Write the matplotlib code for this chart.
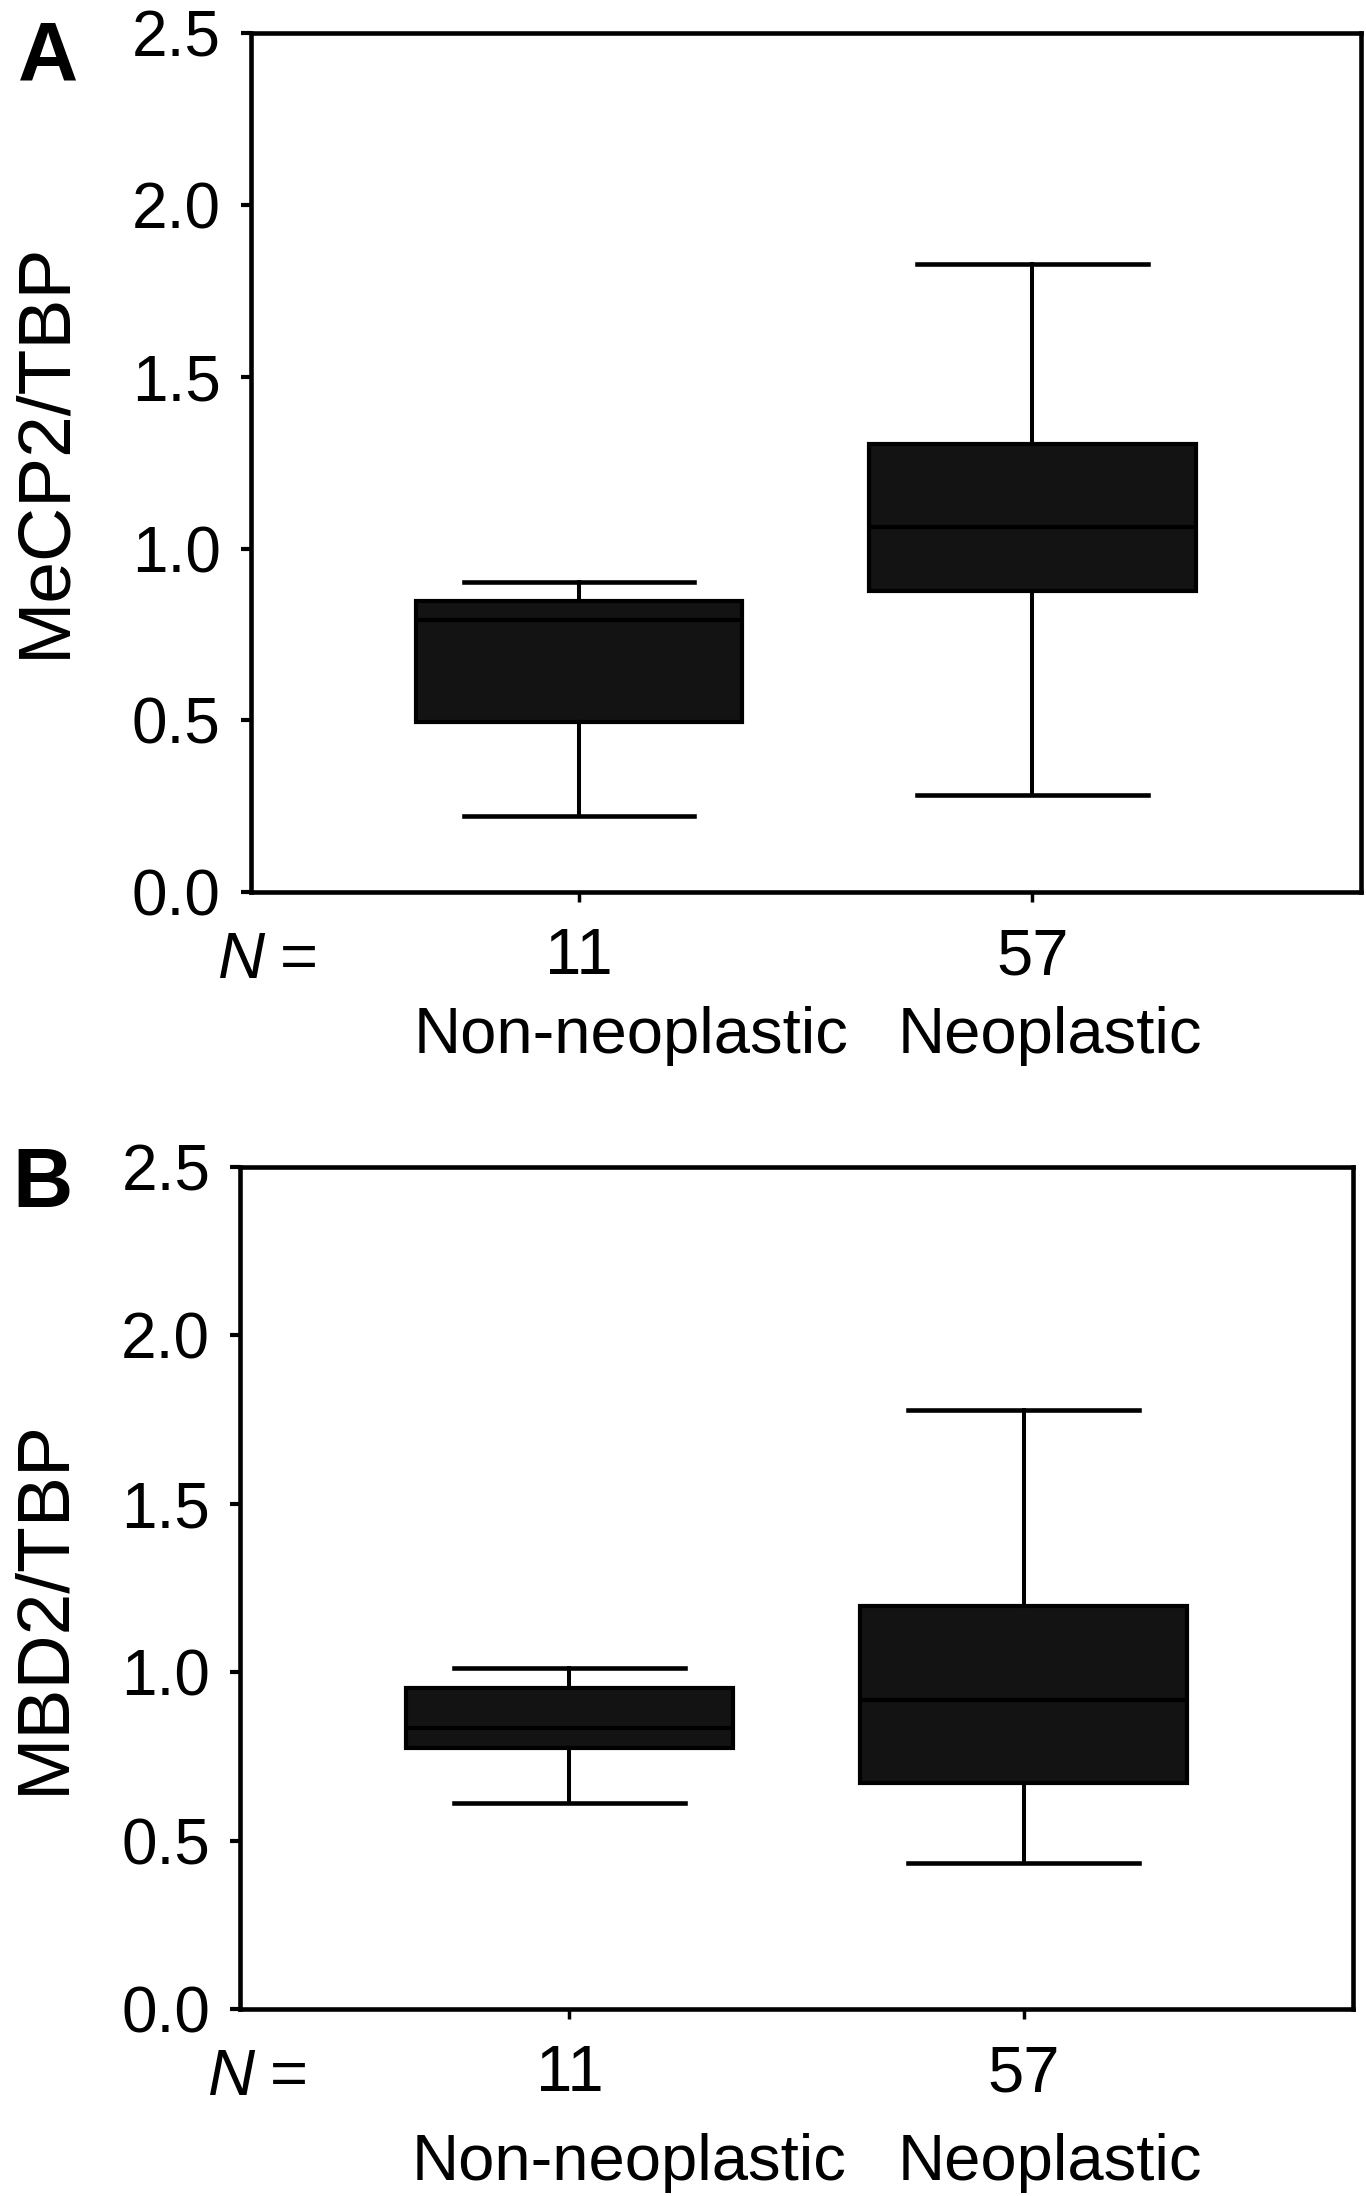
import matplotlib
matplotlib.use("Agg")
import matplotlib.pyplot as plt
from matplotlib.ticker import FormatStrFormatter

# ---- data ----
categories = ["Non-neoplastic", "Neoplastic"]
n_counts = ["11", "57"]
yticks = [0.0, 0.5, 1.0, 1.5, 2.0, 2.5]

# Panel A: MeCP2/TBP
mecp2_whislo = [0.221, 0.281]
mecp2_q1 = [0.495, 0.877]
mecp2_med = [0.792, 1.063]
mecp2_q3 = [0.846, 1.304]
mecp2_whishi = [0.903, 1.827]

# Panel B: MBD2/TBP
mbd2_whislo = [0.612, 0.433]
mbd2_q1 = [0.775, 0.670]
mbd2_med = [0.834, 0.917]
mbd2_q3 = [0.953, 1.197]
mbd2_whishi = [1.012, 1.778]

W, H = 1366, 2196
DPI = 100
plt.rcParams['font.family'] = ['Liberation Sans', 'DejaVu Sans']

fig = plt.figure(figsize=(W / DPI, H / DPI), dpi=DPI)


def fx(px):
    return px / W


def fy(py):
    return 1 - py / H


def make_panel(left, right, top, bottom, lo, q1, med, q3, hi, ylabel, ylab_xy,
               letter, letter_xy, n_xy, eq_x, n_base, cat_xc, cat_base):
    ax = fig.add_axes([fx(left), fy(bottom), fx(right - left), (bottom - top) / H])
    stats = []
    for i in range(len(categories)):
        stats.append(dict(whislo=lo[i], q1=q1[i], med=med[i], q3=q3[i],
                          whishi=hi[i], fliers=[]))
    ax.bxp(stats, positions=[1, 2], widths=0.72, capwidths=0.508,
           showfliers=False, patch_artist=True,
           boxprops=dict(facecolor='#131313', edgecolor='black', linewidth=3.0),
           medianprops=dict(color='black', linewidth=3.0),
           whiskerprops=dict(color='black', linewidth=2.9),
           capprops=dict(color='black', linewidth=3.3))
    ax.set_xlim(0.275, 2.725)
    ax.set_ylim(0, 2.5)
    ax.set_yticks(yticks)
    ax.yaxis.set_major_formatter(FormatStrFormatter('%.1f'))
    ax.set_xticks([1, 2])
    ax.set_xticklabels(n_counts)
    for s in ax.spines.values():
        s.set_linewidth(3.3)
    ax.tick_params(axis='y', direction='out', length=7.5, width=3.0,
                   labelsize=46, pad=14)
    ax.tick_params(axis='x', direction='out', length=7.5, width=2.5,
                   labelsize=47, pad=18)
    fig.text(fx(ylab_xy[0]), fy(ylab_xy[1]), ylabel, rotation=90,
             ha='center', va='center', fontsize=54)
    fig.text(fx(letter_xy[0]), fy(letter_xy[1]), letter, ha='left',
             va='baseline', fontsize=60, fontweight='bold')
    fig.text(fx(n_xy[0]), fy(n_base), "N", ha='left', va='baseline',
             fontsize=47, style='italic')
    fig.text(fx(eq_x), fy(n_base), "=", ha='left', va='baseline', fontsize=47)
    for c, xc in zip(categories, cat_xc):
        fig.text(fx(xc), fy(cat_base), c, ha='center', va='baseline',
                 fontsize=47)
    return ax


make_panel(250.5, 1361, 33.3, 892,
           mecp2_whislo, mecp2_q1, mecp2_med, mecp2_q3, mecp2_whishi,
           "MeCP2/TBP", (45, 450), "A", (18, 80), (218, 0), 280, 978,
           [631, 1050], 1053)

make_panel(240, 1353, 1167, 2009,
           mbd2_whislo, mbd2_q1, mbd2_med, mbd2_q3, mbd2_whishi,
           "MBD2/TBP", (44, 1606), "B", (12, 1207), (208, 0), 270, 2095,
           [629, 1050], 2180)

fig.savefig("out.png", dpi=DPI, facecolor='white')
